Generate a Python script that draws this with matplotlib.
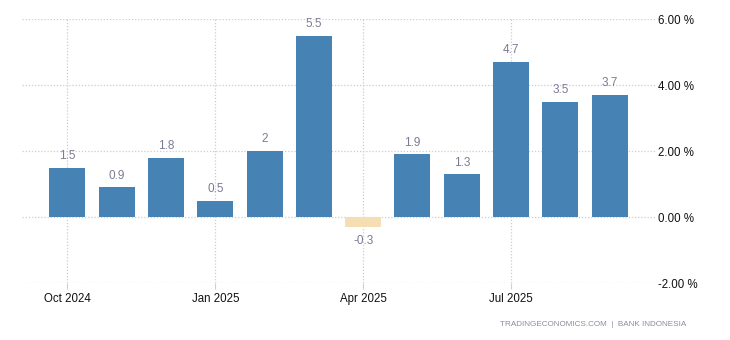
import matplotlib.pyplot as plt
import matplotlib.ticker as mticker

# monthly values, Oct 2024 .. Sep 2025
months = ["Oct 2024", "Nov 2024", "Dec 2024", "Jan 2025", "Feb 2025", "Mar 2025",
          "Apr 2025", "May 2025", "Jun 2025", "Jul 2025", "Aug 2025", "Sep 2025"]
values = [1.5, 0.9, 1.8, 0.5, 2, 5.5, -0.3, 1.9, 1.3, 4.7, 3.5, 3.7]
labels = ["1.5", "0.9", "1.8", "0.5", "2", "5.5", "-0.3", "1.9", "1.3", "4.7", "3.5", "3.7"]
tick_idx = [0, 3, 6, 9]
y_ticks = [-2, 0, 2, 4, 6]

plt.rcParams['font.family'] = ['Liberation Sans', 'DejaVu Sans']

fig = plt.figure(figsize=(7.3, 3.4), dpi=100)
ax = fig.add_axes([22 / 730, 1 - 283 / 340, (655 - 22) / 730, (283 - 19) / 340])

x = list(range(len(values)))
colors = ['#4682b4' if v >= 0 else '#f5deb3' for v in values]
ax.bar(x, values, width=0.73, color=colors, zorder=3)

for xi, v, lab in zip(x, values, labels):
    if v >= 0:
        ax.annotate(lab, (xi, v), xytext=(0, 4), textcoords='offset points',
                    ha='center', va='bottom', fontsize=8.5, color='#7b7b95')
    else:
        ax.annotate(lab, (xi, v), xytext=(0, -6), textcoords='offset points',
                    ha='center', va='top', fontsize=8.5, color='#7b7b95')

ax.set_xlim(-0.92, len(values) - 1 + 0.92)
ax.set_ylim(-2, 6)
ax.set_xticks(tick_idx)
ax.set_xticklabels([months[i] for i in tick_idx], fontsize=8.3, color='#111111')
ax.set_yticks(y_ticks)
ax.yaxis.set_major_formatter(mticker.FuncFormatter(lambda v, p: f"{v:.2f} %"))
ax.yaxis.tick_right()
ax.tick_params(axis='y', length=0, pad=2, labelsize=8.3, labelcolor='#111111')
ax.tick_params(axis='x', length=4, color='#d0d0d0', pad=3)

ax.grid(True, linestyle=(0, (1, 1.5)), color='#cccccc', linewidth=0.9, zorder=0)
for s in ax.spines.values():
    s.set_visible(False)

fig.text(686 / 730, 1 - 325 / 340, "TRADINGECONOMICS.COM  |  BANK INDONESIA",
         ha='right', va='center', fontsize=5.9, color='#8c8ca0')

fig.savefig("out.png", dpi=100)
